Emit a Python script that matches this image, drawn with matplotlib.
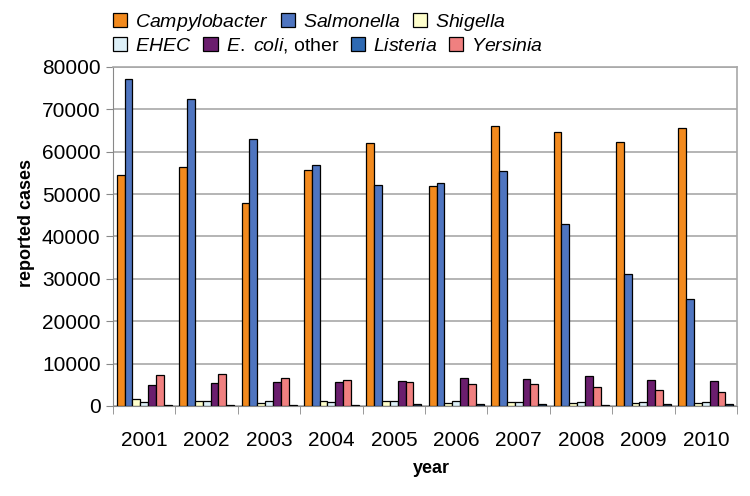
import numpy as np
import matplotlib
matplotlib.use("Agg")
import matplotlib.pyplot as plt
from matplotlib.patches import Patch

plt.rcParams['font.family'] = ['Liberation Sans', 'DejaVu Sans']
plt.rcParams['mathtext.fontset'] = 'custom'
plt.rcParams['mathtext.it'] = 'Liberation Sans:italic'
plt.rcParams['mathtext.rm'] = 'Liberation Sans'

years = ['2001', '2002', '2003', '2004', '2005', '2006', '2007', '2008', '2009', '2010']
campylobacter = [54600, 56400, 47900, 55800, 62100, 52000, 66100, 64700, 62400, 65700]
salmonella = [77200, 72400, 63000, 56900, 52200, 52600, 55400, 42900, 31200, 25300]
shigella = [1600, 1200, 800, 1100, 1200, 800, 900, 600, 600, 700]
ehec = [1000, 1100, 1100, 900, 1200, 1200, 900, 900, 900, 900]
ecoli_other = [5000, 5400, 5600, 5600, 5900, 6600, 6300, 7100, 6200, 5800]
listeria = [200, 240, 260, 300, 510, 510, 360, 300, 400, 390]
yersinia = [7200, 7500, 6600, 6200, 5600, 5200, 5100, 4400, 3700, 3300]

labels = ['$\\it{Campylobacter}$', '$\\it{Salmonella}$', '$\\it{Shigella}$',
          '$\\it{EHEC}$', '$\\it{E.\\ coli}$, other', '$\\it{Listeria}$', '$\\it{Yersinia}$']
cols = ['#F28A1E', '#4F75C0', '#FFFFCC', '#DDF0F8', '#6B1E6E', '#2F6AB3', '#F08080']

# bar order in the groups: yersinia before listeria (listeria bars look near black)
bars = [(campylobacter, cols[0]), (salmonella, cols[1]), (shigella, cols[2]), (ehec, cols[3]),
        (ecoli_other, cols[4]), (yersinia, cols[6]), (listeria, '#1F3550')]

fig = plt.figure(figsize=(7.5, 4.96), dpi=100)
ax = fig.add_axes([0.1507, 0.1815, 0.8320, 0.6835])

x = np.arange(len(years))
w = 0.126
for i, (s, c) in enumerate(bars):
    ax.bar(x + (i - 3) * w, s, w, color=c, edgecolor='black', linewidth=0.9, zorder=3)

ax.set_xlim(-0.5, len(years) - 0.5)
ax.set_ylim(0, 80000)
ax.set_yticks(np.arange(0, 80001, 10000))
ax.yaxis.grid(True, color='#A8A8A8', linewidth=1.2, zorder=0)
ax.set_xticks(x)
ax.set_xticklabels(years)
ax.set_xticks(np.arange(-0.5, len(years)), minor=True)
ax.tick_params(axis='x', which='major', length=0, pad=18, labelsize=15)
ax.tick_params(axis='x', which='minor', length=6, color='#888888', direction='out')
ax.tick_params(axis='y', length=5, color='#888888', labelsize=15, pad=4)
for sp in ['top', 'right']:
    ax.spines[sp].set_color('#A8A8A8')
    ax.spines[sp].set_linewidth(1.2)
ax.spines['left'].set_color('#888888')
ax.spines['bottom'].set_color('#888888')

ax.set_ylabel('reported cases', fontsize=13, fontweight='bold')
ax.yaxis.set_label_coords(-0.125, 0.54)
ax.set_xlabel('year', fontsize=13, fontweight='bold', labelpad=9)
ax.xaxis.set_label_coords(0.51, -0.16)

h = [Patch(facecolor=cols[i], edgecolor='black', linewidth=0.9) for i in range(7)]
leg1 = fig.legend(h[:3], labels[:3], loc='upper left', bbox_to_anchor=(0.135, 1.0), ncol=3,
                  frameon=False, fontsize=14, handlelength=0.75, handleheight=0.75,
                  handletextpad=0.4, columnspacing=0.6, borderaxespad=0.2)
leg2 = fig.legend(h[3:], labels[3:], loc='upper left', bbox_to_anchor=(0.135, 0.95), ncol=4,
                  frameon=False, fontsize=14, handlelength=0.75, handleheight=0.75,
                  handletextpad=0.4, columnspacing=0.6, borderaxespad=0.2)

fig.savefig('out.png', dpi=100)
